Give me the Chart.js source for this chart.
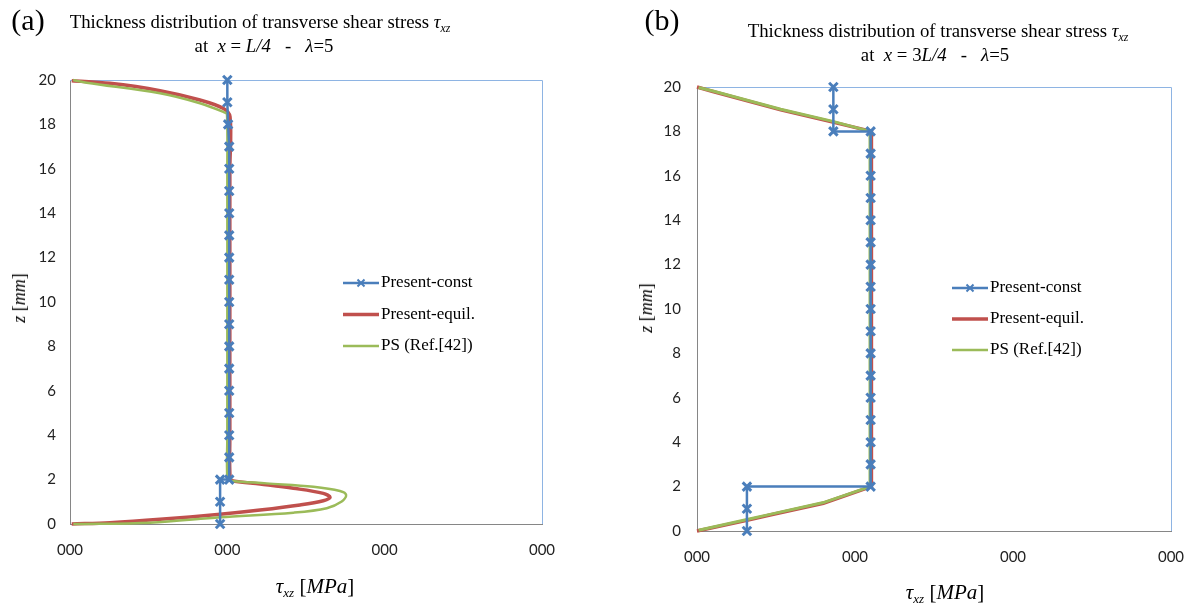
<!DOCTYPE html>
<html>
<head>
<meta charset="utf-8">
<script src="https://cdn.jsdelivr.net/npm/chart.js@4.4.1/dist/chart.umd.min.js"></script>
<style>
body{margin:0;background:#fff;}
#wrap{position:relative;width:1189px;height:605px;overflow:hidden;font-family:"Liberation Serif","Times New Roman",serif;color:#000;}
canvas{position:absolute;top:0;}
.t{position:absolute;white-space:nowrap;transform:translate(-50%,-50%);line-height:1;}
.t sub{font-size:0.62em;vertical-align:-0.35em;line-height:0;}
.rot{transform:translate(-50%,-50%) rotate(-90deg);}
</style>
</head>
<body>
<div id="wrap">
  <canvas id="chartA" width="595" height="605" style="left:0"></canvas>
  <canvas id="chartB" width="589" height="605" style="left:600px"></canvas>

  <div class="t" style="left:28px;top:20px;font-size:30px">(a)</div>
  <div class="t" style="left:260px;top:22px;font-size:18.8px">Thickness distribution of transverse shear stress <i>τ<sub>xz</sub></i></div>
  <div class="t" style="left:264px;top:46px;font-size:18.8px">at &nbsp;<i>x</i> = <i>L/4</i> &nbsp;&nbsp;-&nbsp;&nbsp; <i>λ</i>=5</div>
  <div class="t rot" style="left:19px;top:298px;font-size:18px"><i>z</i> [<i>mm</i>]</div>
  <div class="t" style="left:315px;top:586px;font-size:21px"><i>τ<sub>xz</sub></i> [<i>MPa</i>]</div>

  <div class="t" style="left:662px;top:20px;font-size:30px">(b)</div>
  <div class="t" style="left:938px;top:31px;font-size:18.8px">Thickness distribution of transverse shear stress <i>τ<sub>xz</sub></i></div>
  <div class="t" style="left:935px;top:55px;font-size:18.8px">at &nbsp;<i>x</i> = 3<i>L/4</i> &nbsp;&nbsp;-&nbsp;&nbsp; <i>λ</i>=5</div>
  <div class="t rot" style="left:646px;top:308px;font-size:18px"><i>z</i> [<i>mm</i>]</div>
  <div class="t" style="left:945px;top:592px;font-size:21px"><i>τ<sub>xz</sub></i> [<i>MPa</i>]</div>
</div>
<script>
// tick labels and series names
const xTickLabels = ['000', '000', '000', '000'];
const seriesNames = ['Present-const', 'Present-equil.', 'PS (Ref.[42])'];

// (a) x = L/4
const constA_z = [0, 1, 2, 2, 3, 4, 5, 6, 7, 8, 9, 10, 11, 12, 13, 14, 15, 16, 17, 18, 19, 20];
const constA_x = [0.954, 0.954, 0.954, 1.012, 1.012, 1.012, 1.012, 1.012, 1.012, 1.012, 1.012, 1.012,
                  1.012, 1.012, 1.012, 1.012, 1.012, 1.012, 1.012, 1.005, 1.0, 1.0];
const equilA_z = [0, 0.06, 0.21, 0.44, 0.63, 0.86, 1.05, 1.2, 1.38, 1.61, 1.8, 1.94, 2.05, 4, 10, 16, 18.35, 18.72, 19.1, 19.52, 19.85, 19.97];
const equilA_x = [0.011, 0.254, 0.572, 0.954, 1.208, 1.462, 1.61, 1.653, 1.61, 1.42, 1.208, 1.038, 1.018, 1.016, 1.016, 1.016, 1.017, 0.975, 0.826, 0.572, 0.254, 0.011];
const psA_z = [0, 0.06, 0.3, 0.51, 0.71, 1.01, 1.31, 1.49, 1.68, 1.83, 1.95, 2.05, 4, 10, 16, 18.45, 18.53, 18.95, 19.4, 19.88, 20];
const psA_x = [0.021, 0.509, 0.954, 1.42, 1.632, 1.727, 1.755, 1.716, 1.547, 1.25, 1.017, 1.0, 1.0, 1.0, 1.0, 0.998, 0.985, 0.826, 0.572, 0.106, 0.02];

// (b) x = 3L/4
const constB_z = [0, 1, 2, 2, 3, 4, 5, 6, 7, 8, 9, 10, 11, 12, 13, 14, 15, 16, 17, 18, 18, 19, 20];
const constB_x = [0.316, 0.316, 0.316, 1.099, 1.099, 1.099, 1.099, 1.099, 1.099, 1.099, 1.099, 1.099,
                  1.099, 1.099, 1.099, 1.099, 1.099, 1.099, 1.099, 1.099, 0.863, 0.863, 0.863];
const equilB_z = [0, 0.48, 0.72, 1.25, 2.0, 10, 18.0, 18.42, 18.97, 19.8, 20];
const equilB_x = [0, 0.316, 0.462, 0.8, 1.104, 1.104, 1.104, 0.86, 0.53, 0.1, 0];
const psB_z = [0.03, 0.52, 0.75, 1.28, 2.0, 10, 18.0, 18.45, 19.0, 19.82, 19.98];
const psB_x = [0.01, 0.316, 0.462, 0.8, 1.095, 1.095, 1.095, 0.86, 0.53, 0.1, 0.01];

const BLUE = '#4a7ebb', RED = '#c0504d', GREEN = '#9bbb59';

const pts = (xs, zs) => xs.map((x, i) => ({x: x, y: zs[i]}));

// light blue plot frame on top and right, like the excel plot area
const frame = {
  id: 'frame',
  beforeDatasetsDraw(chart){
    const {ctx, chartArea: a} = chart;
    ctx.save();
    ctx.strokeStyle = '#8eb4e3';
    ctx.lineWidth = 1;
    ctx.beginPath();
    ctx.moveTo(a.left, Math.round(a.top) + 0.5);
    ctx.lineTo(Math.round(a.right) + 0.5, Math.round(a.top) + 0.5);
    ctx.lineTo(Math.round(a.right) + 0.5, a.bottom);
    ctx.stroke();
    ctx.restore();
  }
};

// legend drawn inside the plot, excel style
const innerLegend = {
  id: 'innerLegend',
  afterDatasetsDraw(chart, args, opts){
    const ctx = chart.ctx;
    ctx.save();
    ctx.font = '17px "Liberation Serif", serif';
    ctx.textBaseline = 'middle';
    ctx.fillStyle = '#000';
    chart.data.datasets.forEach((ds, i) => {
      const y = opts.y + i * opts.dy;
      ctx.strokeStyle = ds.borderColor;
      ctx.lineWidth = ds.legendW || ds.borderWidth;
      ctx.beginPath();
      ctx.moveTo(opts.x, y);
      ctx.lineTo(opts.x + 36, y);
      ctx.stroke();
      if (ds.pointRadius > 0) {
        const cx = opts.x + 18, r = 3.5;
        ctx.lineWidth = 2;
        ctx.beginPath();
        ctx.moveTo(cx - r, y - r); ctx.lineTo(cx + r, y + r);
        ctx.moveTo(cx + r, y - r); ctx.lineTo(cx - r, y + r);
        ctx.stroke();
      }
      ctx.fillText(ds.label, opts.x + 38, y);
    });
    ctx.restore();
  }
};

function makeChart(id, data, lay){
  const datasets = [
    {label: seriesNames[0], data: data[0], borderColor: BLUE, backgroundColor: BLUE, borderWidth: 2.5,
     pointStyle: 'crossRot', pointRadius: 6, pointBorderWidth: 3, tension: 0, order: 0},
    {label: seriesNames[1], data: data[1], borderColor: RED, backgroundColor: RED, borderWidth: lay.redW,
     pointRadius: 0, tension: lay.tension, order: 2},
    {label: seriesNames[2], data: data[2], borderColor: GREEN, backgroundColor: GREEN, borderWidth: lay.greenW,
     legendW: 2.5, pointRadius: 0, tension: lay.tension, order: 1}
  ];
  datasets.forEach(d => { d.showLine = true; d.clip = false; });
  return new Chart(document.getElementById(id), {
    type: 'scatter',
    data: {datasets: datasets},
    plugins: [frame, innerLegend],
    options: {
      responsive: false,
      animation: false,
      layout: {padding: {top: lay.top, right: lay.right, left: 0, bottom: 0}},
      plugins: {
        legend: {display: false},
        tooltip: {enabled: false},
        innerLegend: {x: lay.legX, y: lay.legY, dy: lay.legDy}
      },
      scales: {
        x: {
          type: 'linear', min: 0, max: 3,
          grid: {display: false, drawTicks: false},
          border: {display: true, color: '#868686', width: 1},
          ticks: {stepSize: 1, padding: lay.xPad, color: '#222', font: {family: 'Lato', size: 15},
                  callback: (v, i) => xTickLabels[i]},
          afterFit: s => { s.height = lay.xH; s.paddingLeft = 0; s.paddingRight = 0; }
        },
        y: {
          type: 'linear', min: 0, max: 20,
          grid: {display: false, drawTicks: false},
          border: {display: true, color: '#868686', width: 1},
          ticks: {stepSize: 2, padding: lay.yPad, color: '#222', font: {family: 'Lato', size: 15}},
          afterFit: s => { s.width = lay.yW; s.paddingTop = 0; s.paddingBottom = 0; }
        }
      }
    }
  });
}

makeChart('chartA',
  [pts(constA_x, constA_z), pts(equilA_x, equilA_z), pts(psA_x, psA_z)],
  {top: 80, right: 53, xH: 81, yW: 70, xPad: 17, yPad: 14, tension: 0.35, redW: 3.5, greenW: 2.5,
   legX: 343, legY: 283, legDy: 31.5});

makeChart('chartB',
  [pts(constB_x, constB_z), pts(equilB_x, equilB_z), pts(psB_x, psB_z)],
  {top: 87, right: 18, xH: 74, yW: 97, xPad: 17, yPad: 16, tension: 0, redW: 3.5, greenW: 3,
   legX: 352, legY: 288, legDy: 31});
</script>
</body>
</html>
